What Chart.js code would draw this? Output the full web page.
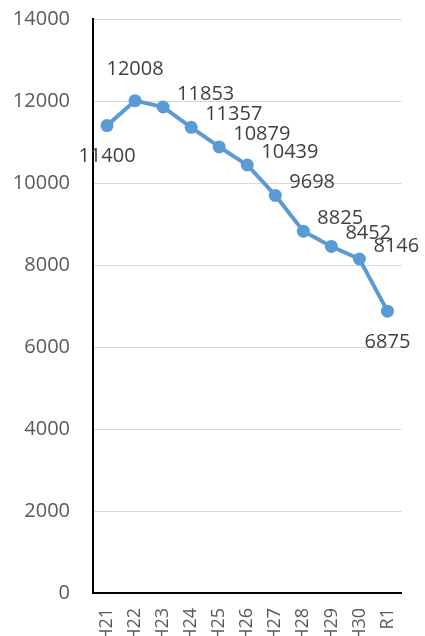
<!DOCTYPE html>
<html>
<head>
<meta charset="utf-8">
<script src="https://cdn.jsdelivr.net/npm/chart.js@4/dist/chart.umd.min.js"></script>
<style>
  html, body { margin: 0; padding: 0; background: #fff; overflow: hidden; }
  #wrap { width: 425px; height: 636px; overflow: hidden; }
  #chart { display: block; margin-top: -16px; }
</style>
</head>
<body>
<div id="wrap"><canvas id="chart" width="425" height="677"></canvas></div>
<script>
const labels = ["H21", "H22", "H23", "H24", "H25", "H26", "H27", "H28", "H29", "H30", "R1"];
const values = [11400, 12008, 11853, 11357, 10879, 10439, 9698, 8825, 8452, 8146, 6875];
const yTicks = [0, 2000, 4000, 6000, 8000, 10000, 12000, 14000];

const FONT = "'Open Sans', 'Liberation Sans', sans-serif";

// value labels next to each point, placed roughly like the original
const pointLabels = {
  id: "pointLabels",
  afterDatasetsDraw(chart) {
    const ctx = chart.ctx;
    const meta = chart.getDatasetMeta(0);
    const last = meta.data.length - 1;
    ctx.save();
    ctx.font = "20px " + FONT;
    ctx.fillStyle = "#404040";
    ctx.textBaseline = "middle";
    meta.data.forEach((pt, i) => {
      const txt = String(values[i]);
      if (i === 0 || i === last) {
        ctx.textAlign = "center";
        ctx.fillText(txt, pt.x, pt.y + 31);
      } else if (i === 1) {
        ctx.textAlign = "center";
        ctx.fillText(txt, pt.x, pt.y - 31);
      } else {
        ctx.textAlign = "left";
        ctx.fillText(txt, pt.x + 14, pt.y - 13);
      }
    });
    ctx.restore();
  }
};

new Chart(document.getElementById("chart"), {
  type: "line",
  data: {
    labels: labels,
    datasets: [{
      data: values,
      borderColor: "#5b9bd5",
      backgroundColor: "#5b9bd5",
      borderWidth: 4,
      pointRadius: 6.5,
      pointHoverRadius: 6.5,
      pointBorderWidth: 0,
      tension: 0
    }]
  },
  options: {
    responsive: false,
    animation: false,
    devicePixelRatio: 1,
    layout: { padding: { top: 3, right: 20, left: 0, bottom: 0 } },
    plugins: { legend: { display: false }, tooltip: { enabled: false } },
    scales: {
      x: {
        offset: true,
        grid: { display: false, drawTicks: false },
        border: { color: "#000", width: 2 },
        ticks: {
          minRotation: 90,
          maxRotation: 90,
          autoSkip: false,
          padding: 15,
          color: "#595959",
          font: { size: 18, family: FONT }
        },
        afterFit(scale) { scale.height = 68; }
      },
      y: {
        min: 0,
        max: 14000,
        afterBuildTicks(scale) { scale.ticks = yTicks.map(v => ({ value: v })); },
        grid: { color: "#d9d9d9", lineWidth: 1, drawTicks: false },
        border: { color: "#000", width: 2 },
        ticks: {
          padding: 23,
          color: "#595959",
          font: { size: 20, family: FONT },
          callback: v => String(v)
        },
        afterFit(scale) { scale.width = 93; }
      }
    }
  },
  plugins: [pointLabels]
});
</script>
</body>
</html>
